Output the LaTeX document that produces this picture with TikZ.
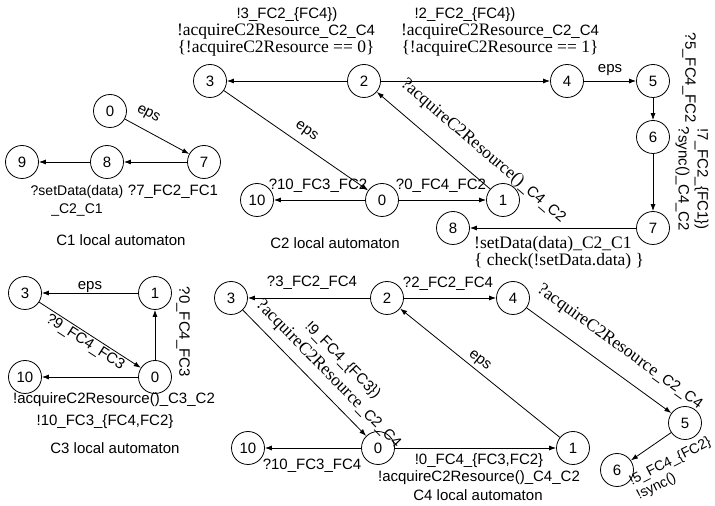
\documentclass[tikz,border=0pt]{standalone}
\usepackage{fontspec}
\setmainfont{Liberation Sans}
\newfontfamily\tmsfont{Liberation Serif}
\usetikzlibrary{arrows.meta}
\newcommand{\srf}[1]{{\tmsfont\fontsize{17.5}{19}\selectfont #1}}
\tikzset{
  st/.style={circle, draw, line width=0.8pt, minimum size=33pt, inner sep=0pt},
  tr/.style={-{Latex[length=7pt,width=5pt]}, line width=0.8pt},
  lb/.style={inner sep=0pt},
}

\begin{document}
\begin{tikzpicture}[x=1pt,y=1pt,font=\fontsize{15}{17}\selectfont]
\useasboundingbox (0,0) rectangle (715,506);

% ---- C1 ----
\node[st] (c1s0) at (110,395) {0};
\node[st] (c1s7) at (204,344) {7};
\node[st] (c1s8) at (107,344) {8};
\node[st] (c1s9) at (22,344) {9};
\draw[tr] (c1s0) -- node[lb, sloped, above=9pt, pos=.25] {eps} (c1s7);
\draw[tr] (c1s7) -- (c1s8);
\draw[tr] (c1s8) -- (c1s9);
\node[lb, align=center, font=\fontsize{14}{16}\selectfont] (c1t1) at (77,305)
  {?setData(data)\\[2pt]\_C2\_C1};
\node[lb] (c1t2) at (173,314) {?7\_FC2\_FC1};
\node[lb] (c1t3) at (121,266) {C1 local automaton};

% ---- C2 ----
\node[st] (c2s3) at (210,425) {3};
\node[st] (c2s2) at (364,425) {2};
\node[st] (c2s4) at (567,425) {4};
\node[st] (c2s5) at (653,425) {5};
\node[st] (c2s6) at (653,369) {6};
\node[st] (c2s7) at (653,278) {7};
\node[st] (c2s8) at (453,278) {8};
\node[st] (c2s1) at (503,306) {1};
\node[st] (c2s0) at (382,306) {0};
\node[st] (c2s10) at (257,306) {10};
\draw[tr] (c2s2) -- (c2s3);
\draw[tr] (c2s2) -- (c2s4);
\draw[tr] (c2s4) -- node[lb, above=5pt] {eps} (c2s5);
\draw[tr] (c2s5) -- (c2s6);
\draw[tr] (c2s6) -- (c2s7);
\draw[tr] (c2s7) -- (c2s8);
\draw[tr] (c2s3) -- node[lb, sloped, above=7pt, pos=.52] {eps} (c2s0);
\draw[tr] (c2s0) -- (c2s10);
\draw[tr] (c2s0) -- (c2s1);
\draw[tr] (c2s1) -- node[lb, sloped, above=16pt, pos=.2]
  {\srf{?acquireC2Resource()}\_C4\_C2} (c2s2);
\node[lb] (c2t1) at (287,491) {!3\_FC2\_\{FC4\})};
\node[lb, align=center] (c2t2) at (276,466)
  {\srf{!acquireC2Resource}\_C2\_C4\\\srf{\{!acquireC2Resource == 0\}}};
\node[lb] (c2t3) at (465,491) {!2\_FC2\_\{FC4\})};
\node[lb, align=center] (c2t4) at (500,466)
  {\srf{!acquireC2Resource}\_C2\_C4\\\srf{\{!acquireC2Resource == 1\}}};
\node[lb, rotate=-90] (c2t5) at (689,428) {?5\_FC4\_FC2};
\node[lb, rotate=-90, align=center] (c2t6) at (692,327)
  {!7\_FC2\_\{FC1\})\\[2pt]?sync()\_C4\_C2};
\node[lb] (c2t7) at (318,320) {?10\_FC3\_FC2};
\node[lb] (c2t8) at (441,320) {?0\_FC4\_FC2};
\node[lb] (c2t9) at (335,263) {C2 local automaton};
\node[lb, anchor=north west, align=left] (c2t10) at (474,270)
  {\srf{!setData(data)\_C2\_C1}\\\srf{\{ check(!setData.data) \}}};

% ---- C3 ----
\node[st] (c3s3) at (25,213) {3};
\node[st] (c3s1) at (155,213) {1};
\node[st] (c3s0) at (155,129) {0};
\node[st] (c3s10) at (25,129) {10};
\draw[tr] (c3s1) -- node[lb, above=0pt] {eps} (c3s3);
\draw[tr] (c3s0) -- (c3s1);
\draw[tr] (c3s3) -- node[lb, sloped, below=2pt] {?9\_FC4\_FC3} (c3s0);
\draw[tr] (c3s0) -- (c3s10);
\node[lb, rotate=-90] (c3t1) at (183,174) {?0\_FC4\_FC3};
\node[lb] (c3t2) at (114,106) {!acquireC2Resource()\_C3\_C2};
\node[lb] (c3t3) at (105,84) {!10\_FC3\_\{FC4,FC2\}};
\node[lb] (c3t4) at (115,58) {C3 local automaton};

% ---- C4 ----
\node[st] (c4s3) at (231,208) {3};
\node[st] (c4s2) at (387,208) {2};
\node[st] (c4s4) at (513,208) {4};
\node[st] (c4s5) at (685,83) {5};
\node[st] (c4s6) at (617,36) {6};
\node[st] (c4s1) at (573,58) {1};
\node[st] (c4s0) at (378,58) {0};
\node[st] (c4s10) at (248,58) {10};
\draw[tr] (c4s2) -- (c4s3);
\draw[tr] (c4s2) -- (c4s4);
\draw[tr] (c4s4) -- node[lb, sloped, above=15pt, pos=.55]
  {\srf{?acquireC2Resource}\_C2\_C4} (c4s5);
\draw[tr] (c4s5) -- (c4s6);
\draw[tr] (c4s3) -- node[lb, sloped, above=8pt, pos=.6, align=center]
  {!9\_FC4\_\{FC3\})\\[3pt]\srf{?acquireC2Resource}\_C2\_C4} (c4s0);
\draw[tr] (c4s0) -- (c4s10);
\draw[tr] (c4s0) -- (c4s1);
\draw[tr] (c4s1) -- node[lb, sloped, above=3pt, pos=.54] {eps} (c4s2);
\node[lb, rotate=27, align=left, font=\fontsize{14}{16}\selectfont] (c4t0)
  at (674,37) {!5\_FC4\_\{FC2\}\\!sync()};
\node[lb] (c4t1) at (312,223) {?3\_FC2\_FC4};
\node[lb] (c4t2) at (448,222) {?2\_FC2\_FC4};
\node[lb] (c4t3) at (312,40) {?10\_FC3\_FC4};
\node[lb, align=center] (c4t4) at (479,37)
  {!0\_FC4\_\{FC3,FC2\}\\!acquireC2Resource()\_C4\_C2};
\node[lb] (c4t5) at (478,11) {C4 local automaton};
\end{tikzpicture}
\end{document}
